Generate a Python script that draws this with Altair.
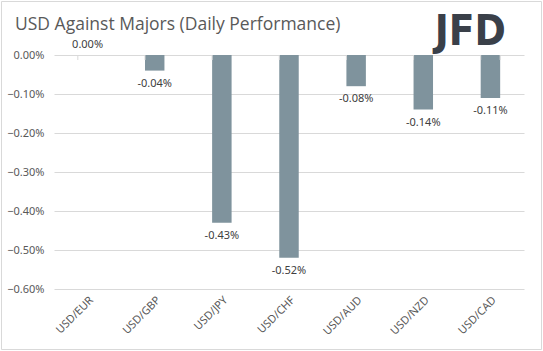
import altair as alt
import pandas as pd

pairs = ["USD/EUR", "USD/GBP", "USD/JPY", "USD/CHF", "USD/AUD", "USD/NZD", "USD/CAD"]
changes = [0.00, -0.04, -0.43, -0.52, -0.08, -0.14, -0.11]
y_ticks = [0.0, -0.1, -0.2, -0.3, -0.4, -0.5, -0.6]

df = pd.DataFrame({"pair": pairs, "change": changes})
df["label"] = [f"{v:.2f}%" for v in changes]

W, H = 470, 234
PL, PT = 54, 55
TW, TH = 543, 351

x_axis = alt.Axis(labelAngle=-45, labelFontSize=11, labelColor="#595959",
                  labelFont="Noto Sans", domain=False, ticks=False, labelPadding=5)
x_scale = alt.Scale(paddingInner=0.71, paddingOuter=0.355)
x_enc = alt.X("pair:N", sort=pairs, title=None, scale=x_scale, axis=x_axis)
y_enc = alt.Y("change:Q", title=None,
              scale=alt.Scale(domain=[-0.6, 0], nice=False),
              axis=alt.Axis(values=y_ticks, labelExpr="format(datum.value, '.2f') + '%'",
                            labelFontSize=11, labelColor="#595959", labelFont="Noto Sans",
                            domain=False, ticks=False, labelPadding=10, labelOverlap=False,
                            grid=True, gridColor="#d9d9d9", gridWidth=1))

base = alt.Chart(df)

bars = base.mark_bar(color="#7f939d").encode(x=x_enc, y=y_enc, y2=alt.datum(0))

neg_text = base.transform_filter("datum.change < 0").mark_text(
    dy=13, baseline="middle", fontSize=11, color="#404040", font="Noto Sans"
).encode(x=x_enc, y=y_enc, text="label:N")

zero_text = base.transform_filter("datum.change >= 0").mark_text(
    dy=-10, baseline="middle", fontSize=11, color="#404040", font="Noto Sans"
).encode(x=x_enc, y=y_enc, text="label:N")

ticks_left = base.mark_rule(color="#d9d9d9", strokeWidth=1).encode(
    x=alt.X("pair:N", sort=pairs, title=None, bandPosition=0, scale=x_scale, axis=x_axis),
    y=alt.value(0), y2=alt.value(5))
ticks_right = base.transform_filter(f"datum.pair == '{pairs[-1]}'").mark_rule(
    color="#d9d9d9", strokeWidth=1).encode(
    x=alt.X("pair:N", sort=pairs, title=None, bandPosition=1, scale=x_scale, axis=x_axis),
    y=alt.value(0), y2=alt.value(5))

border = base.transform_filter(f"datum.pair == '{pairs[0]}'").mark_rect(
    fill=None, stroke="#d9d9d9", strokeWidth=1).encode(
    x=alt.value(-PL + 1.5), x2=alt.value(TW - PL - 1.5),
    y=alt.value(-PT + 1.5), y2=alt.value(TH - PT - 1.5))

title_txt = base.transform_filter(f"datum.pair == '{pairs[0]}'").mark_text(
    text="USD Against Majors (Daily Performance)", align="left", baseline="alphabetic",
    fontSize=17.5, font="Open Sans", color="#595959").encode(
    x=alt.value(15 - PL), y=alt.value(30 - PT))

logo = base.transform_filter(f"datum.pair == '{pairs[0]}'").mark_text(
    text="JFD", align="right", baseline="alphabetic", fontSize=42, fontWeight="bold",
    font="Liberation Sans Narrow, DejaVu Sans Condensed", color="#3a4049").encode(
    x=alt.value(506 - PL), y=alt.value(45 - PT))

chart = alt.layer(border, bars, ticks_left, ticks_right, neg_text, zero_text, title_txt, logo).properties(
    width=W, height=H,
    autosize=alt.AutoSizeParams(type="none"),
    padding={"left": PL, "top": PT, "right": TW - PL - W, "bottom": TH - PT - H},
    background="white",
).configure_view(stroke=None)

chart.save("out.html", embed_options={"renderer": "svg", "actions": False})
